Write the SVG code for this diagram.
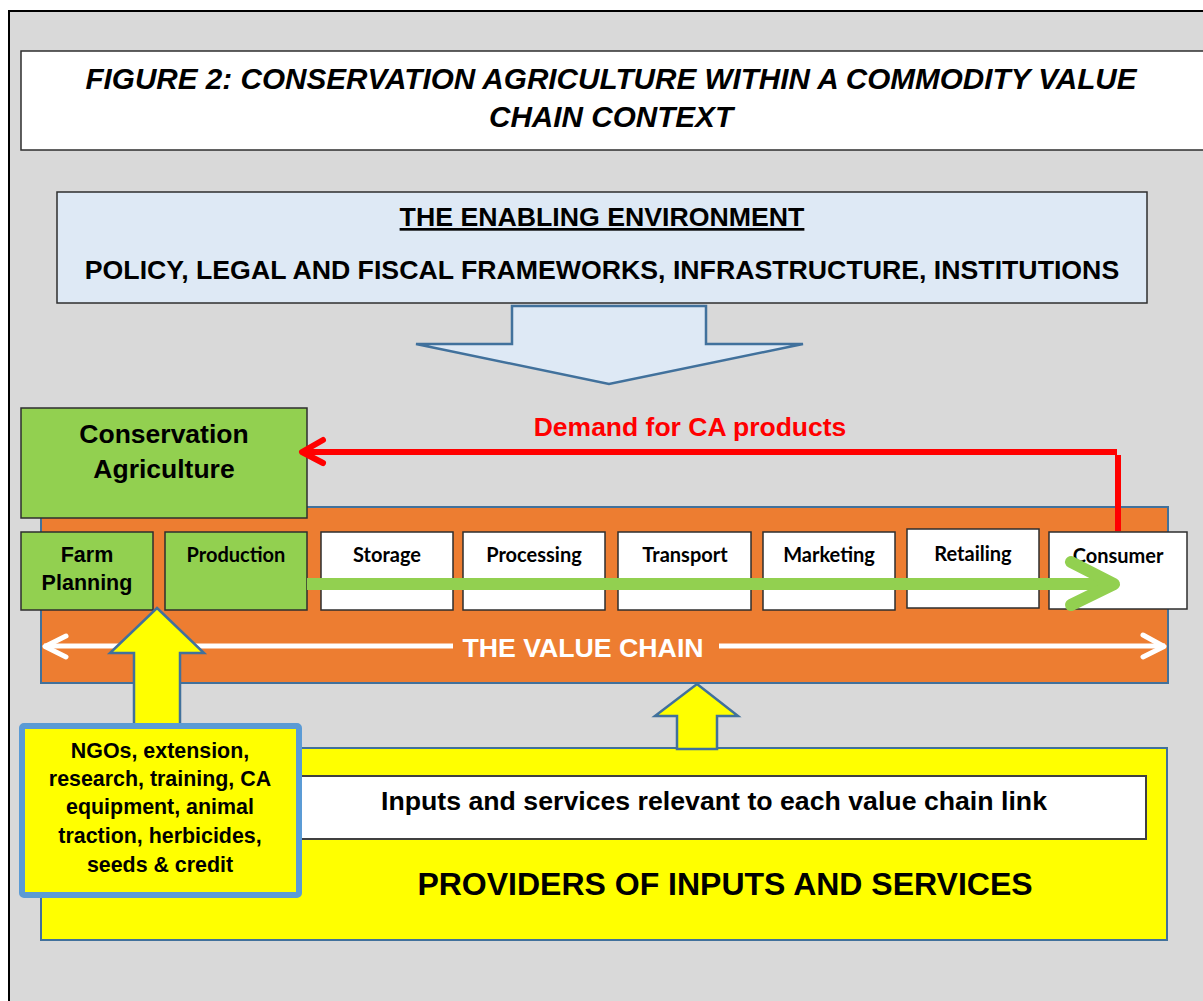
<svg xmlns="http://www.w3.org/2000/svg" width="1203" height="1001" viewBox="0 0 1203 1001">
  <style>
    .arial { font-family: "Liberation Sans", Arial, sans-serif; font-weight: bold; }
    .cal { font-family: Lato, "Open Sans", sans-serif; font-weight: bold; font-size: 20px; fill: #000; }
    .box { stroke: #2e2e2e; stroke-width: 1.5; }
    .link { fill: #ffffff; }
    .green { fill: #92d050; }
    .blueline { stroke: #41719c; stroke-width: 2.5; stroke-linejoin: miter; }
  </style>
  <rect x="0" y="0" width="1203" height="1001" fill="#ffffff"/>
  <!-- frame -->
  <rect x="9" y="11" width="1210" height="1010" fill="#d9d9d9" stroke="#000" stroke-width="2"/>

  <!-- title -->
  <g id="title">
    <rect x="21" y="51" width="1190" height="99" fill="#ffffff" stroke="#2e2e2e" stroke-width="1.5"/>
    <text class="arial" x="611" y="89" font-size="29.7" font-style="italic" text-anchor="middle">FIGURE 2: CONSERVATION AGRICULTURE WITHIN A COMMODITY VALUE</text>
    <text class="arial" x="611" y="127" font-size="29.7" font-style="italic" text-anchor="middle">CHAIN CONTEXT</text>
  </g>

  <!-- enabling environment -->
  <g id="enabling">
    <rect x="57" y="192" width="1090" height="111" fill="#dee9f5" stroke="#2e2e2e" stroke-width="1.5"/>
    <text class="arial" x="602" y="226" font-size="26.7" text-anchor="middle" text-decoration="underline">THE ENABLING ENVIRONMENT</text>
    <text class="arial" x="602" y="279" font-size="26.7" text-anchor="middle">POLICY, LEGAL AND FISCAL FRAMEWORKS, INFRASTRUCTURE, INSTITUTIONS</text>
  </g>
  <g id="enabling-arrow">
    <polygon points="512,306 706,306 706,344 803,344 609,384 416,344 512,344" fill="#dee9f5" class="blueline"/>
  </g>

  <!-- value chain band -->
  <g id="value-chain">
    <rect x="41" y="507" width="1127" height="176" fill="#ed7d31" stroke="#41719c" stroke-width="2"/>
  </g>

  <g id="conservation-agriculture">
    <rect x="21" y="408" width="286" height="110" class="green box"/>
    <text class="arial" x="164" y="443" font-size="26.5" text-anchor="middle">Conservation</text>
    <text class="arial" x="164" y="478" font-size="26.5" text-anchor="middle">Agriculture</text>
  </g>

  <g id="farm-planning">
    <rect x="21" y="532" width="132" height="78" class="green box"/>
    <text class="arial" x="87" y="562" font-size="21.5" text-anchor="middle">Farm</text>
    <text class="arial" x="87" y="590" font-size="21.5" text-anchor="middle">Planning</text>
  </g>
  <g id="production">
    <rect x="165" y="532" width="142" height="78" class="green box"/>
    <text class="cal" x="236" y="562" text-anchor="middle">Production</text>
  </g>
  <g id="storage">
    <rect x="321" y="532" width="132" height="78" class="link box"/>
    <text class="cal" x="387" y="562" text-anchor="middle">Storage</text>
  </g>
  <g id="processing">
    <rect x="463" y="532" width="142" height="78" class="link box"/>
    <text class="cal" x="534" y="562" text-anchor="middle">Processing</text>
  </g>
  <g id="transport">
    <rect x="618" y="532" width="133" height="78" class="link box"/>
    <text class="cal" x="685" y="562" text-anchor="middle">Transport</text>
  </g>
  <g id="marketing">
    <rect x="763" y="532" width="132" height="78" class="link box"/>
    <text class="cal" x="829" y="562" text-anchor="middle">Marketing</text>
  </g>
  <g id="retailing">
    <rect x="907" y="529" width="132" height="79" class="link box"/>
    <text class="cal" x="973" y="561" text-anchor="middle">Retailing</text>
  </g>
  <g id="consumer">
    <rect x="1049" y="532" width="138" height="77" class="link box"/>
    <text class="cal" x="1118" y="563" text-anchor="middle">Consumer</text>
  </g>

  <!-- providers -->
  <g id="providers">
    <rect x="41" y="748" width="1126" height="192" fill="#ffff00" stroke="#41719c" stroke-width="2"/>
    <rect x="290" y="776" width="856" height="63" fill="#ffffff" stroke="#404040" stroke-width="2"/>
    <text class="arial" x="714" y="810" font-size="26.7" text-anchor="middle">Inputs and services relevant to each value chain link</text>
    <text class="arial" x="725" y="895" font-size="32" text-anchor="middle">PROVIDERS OF INPUTS AND SERVICES</text>
  </g>

  <!-- connectors -->
  <g id="connectors" fill="none">
    <!-- demand feedback -->
    <polyline points="1118,531 1118,455" stroke="#ff0000" stroke-width="6"/>
    <line x1="1117" y1="452" x2="304" y2="452" stroke="#ff0000" stroke-width="6"/>
    <polyline points="323,440 302,452 323,463" stroke="#ff0000" stroke-width="6" stroke-linecap="round" stroke-linejoin="round"/>
    <text class="arial" x="690" y="436" font-size="26.5" text-anchor="middle" fill="#ff0000">Demand for CA products</text>

    <!-- product flow -->
    <line x1="307" y1="584" x2="1112" y2="584" stroke="#92d050" stroke-width="12"/>
    <polyline points="1071,562 1114,584 1071,605" stroke="#92d050" stroke-width="12" stroke-linecap="round" stroke-linejoin="round"/>

    <!-- value chain span -->
    <line x1="44" y1="646" x2="453" y2="646" stroke="#ffffff" stroke-width="5"/>
    <line x1="719" y1="646" x2="1165" y2="646" stroke="#ffffff" stroke-width="5"/>
    <polyline points="66,636 45,646.5 66,657" stroke="#ffffff" stroke-width="5" stroke-linecap="round" stroke-linejoin="round"/>
    <polyline points="1143,635 1164,646.5 1143,657" stroke="#ffffff" stroke-width="5" stroke-linecap="round" stroke-linejoin="round"/>
    <text class="arial" x="583" y="657" font-size="26.7" text-anchor="middle" fill="#ffffff">THE VALUE CHAIN</text>

    <!-- service arrows -->
    <polygon points="157,608 204,653 180,653 180,740 134,740 134,653 110,653" fill="#ffff00" class="blueline"/>
    <polygon points="697,684 738,716 717,716 717,749 677,749 677,716 655,716" fill="#ffff00" class="blueline"/>
  </g>

  <g id="ngo-services">
    <rect x="22" y="726" width="277" height="169" rx="2" fill="#ffff00" stroke="#5b9bd5" stroke-width="6"/>
    <text class="arial" x="160" y="758" font-size="21.4" text-anchor="middle">NGOs, extension,</text>
    <text class="arial" x="160" y="786" font-size="21.4" text-anchor="middle">research, training, CA</text>
    <text class="arial" x="160" y="814" font-size="21.4" text-anchor="middle">equipment, animal</text>
    <text class="arial" x="160" y="843" font-size="21.4" text-anchor="middle">traction, herbicides,</text>
    <text class="arial" x="160" y="872" font-size="21.4" text-anchor="middle">seeds &amp; credit</text>
  </g>
</svg>
